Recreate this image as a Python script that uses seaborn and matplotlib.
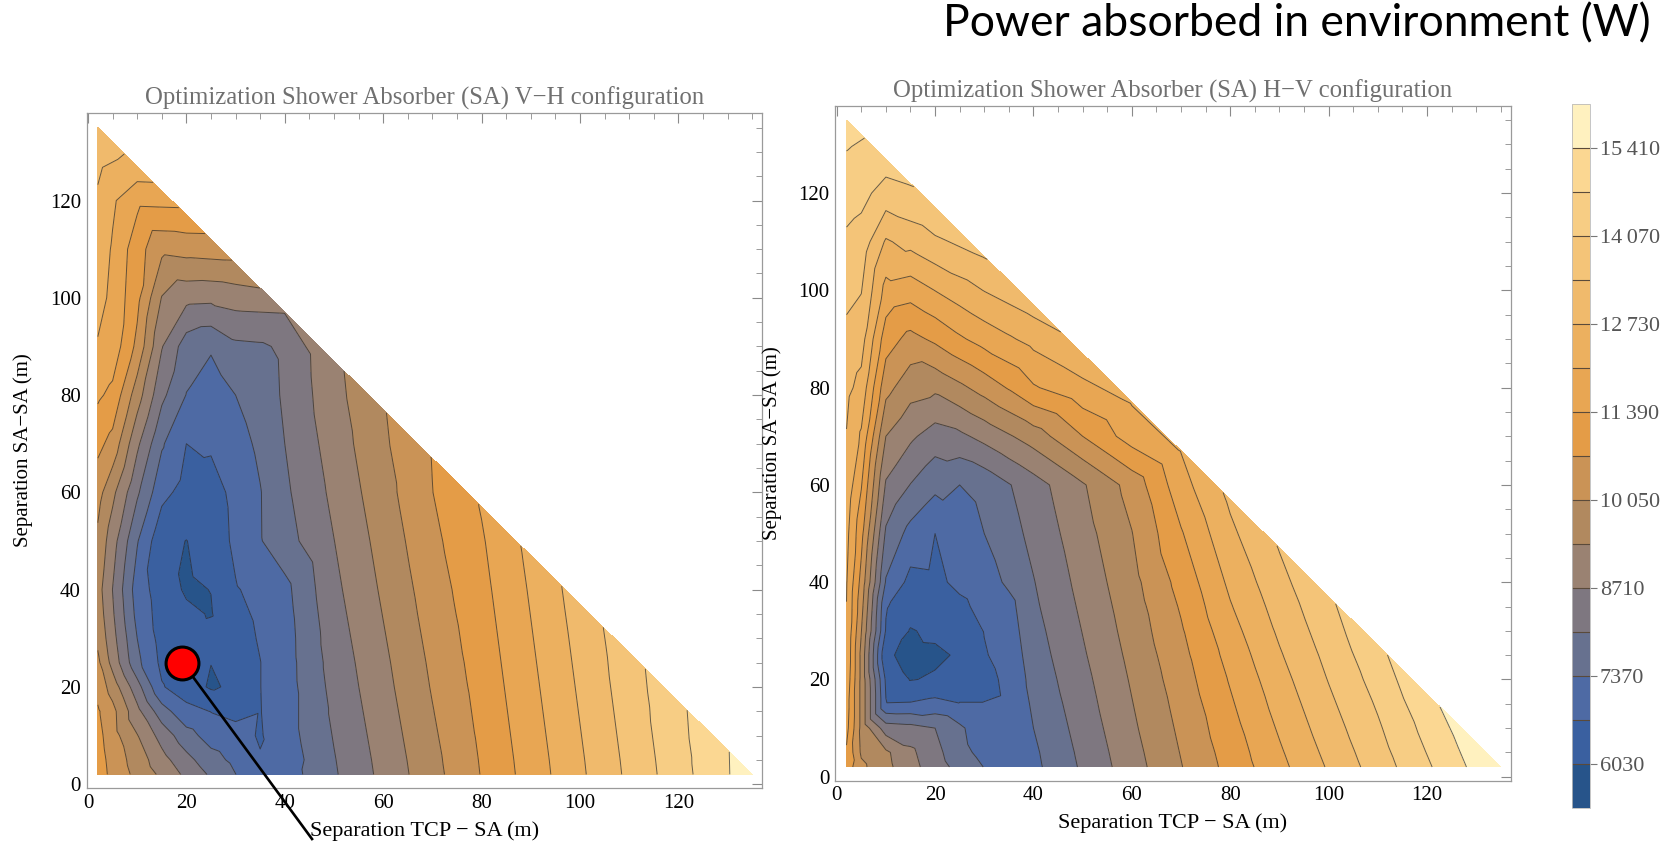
import numpy as np
import matplotlib
matplotlib.use("Agg")
import matplotlib.pyplot as plt
import matplotlib.tri as mtri
from matplotlib.ticker import MultipleLocator, FixedLocator
import seaborn as sns

# ---------------- data ----------------
# sample columns: x positions (m); each column holds values at y_nodes below the
# long edge of the triangle, followed by the value on that edge (x + y = hyp_sum)
x_nodes = [2, 5, 10, 15, 20, 25, 30, 35, 40, 50, 60, 70, 80, 90, 100, 110, 120, 130, 135]
y_nodes = [2, 5, 10, 15, 20, 25, 30, 35, 40, 50, 60, 70, 80, 90, 100, 110, 120, 130]
hyp_sum = 137

# Power absorbed (W), V-H configuration (left panel)
vh_power = [
    [11100, 11050, 10950, 10800, 10500, 10200, 9900, 9750, 9650, 9900, 10300, 10900, 11500, 12000, 12300, 12400, 12600, 13000, 13200],
    [10510, 10450, 10300, 10250, 9750, 9150, 8950, 8800, 8700, 9000, 9550, 10500, 11220, 11800, 11900, 12000, 12150, 12970],
    [9870, 9750, 9410, 8900, 8300, 7530, 7370, 7170, 7050, 7420, 8150, 8850, 9700, 10550, 10900, 11000, 11550, 12470],
    [9240, 8950, 8450, 7650, 6750, 6550, 6450, 6400, 6350, 6200, 6900, 7450, 8200, 8750, 9350, 10200, 11840],
    [8550, 8250, 7620, 6900, 6350, 6250, 6200, 6150, 5950, 6020, 6450, 6700, 7350, 7700, 8900, 10300, 11190],
    [7940, 7620, 7100, 6680, 5950, 6040, 6300, 5990, 6040, 6250, 6400, 6800, 7000, 7450, 8870, 10570],
    [7380, 7200, 6900, 6550, 6150, 6400, 6450, 6550, 6650, 6850, 6900, 7100, 7370, 7900, 9000, 9960],
    [6800, 6740, 6650, 6680, 6690, 6690, 6750, 6800, 6900, 7330, 7340, 7500, 7730, 7950, 9380],
    [7030, 6960, 7060, 7060, 7060, 7070, 7080, 7120, 7180, 7770, 7920, 8040, 8120, 8150, 8730],
    [7960, 8000, 8080, 8160, 8240, 8310, 8390, 8470, 8550, 8700, 8860, 9010, 9160, 9220],
    [8890, 8930, 9010, 9090, 9170, 9240, 9320, 9400, 9480, 9630, 9790, 9940, 10000],
    [9820, 9860, 9940, 10020, 10100, 10170, 10250, 10330, 10400, 10560, 10710, 10740],
    [10750, 10780, 10840, 10900, 10960, 11020, 11080, 11140, 11200, 11320, 11430],
    [11680, 11710, 11770, 11830, 11890, 11950, 12010, 12070, 12130, 12220],
    [12610, 12640, 12700, 12760, 12820, 12880, 12940, 13030],
    [13540, 13570, 13630, 13690, 13750, 13810],
    [14470, 14500, 14560, 14600],
    [15370, 15380],
    [15800],
]

# Power absorbed (W), H-V configuration (right panel)
hv_power = [
    [11100, 11300, 11600, 11700, 11850, 11950, 12000, 12050, 12100, 12250, 12500, 12700, 12900, 13200, 13600, 13950, 14350, 14800, 15000],
    [10200, 9950, 9870, 9870, 9870, 9870, 10075, 10290, 10500, 10930, 11440, 11970, 12520, 13010, 13430, 13810, 14250, 14800],
    [9560, 9500, 8370, 6730, 6600, 6100, 6650, 6750, 7310, 7930, 8630, 9380, 10270, 11030, 11840, 12650, 13820, 14350],
    [8950, 8850, 8270, 6750, 6000, 5900, 5990, 6300, 6500, 7140, 8020, 8830, 9640, 10510, 11690, 12950, 14100],
    [8350, 8250, 8040, 6900, 6100, 5920, 6150, 6300, 6550, 6700, 7540, 8400, 9520, 10850, 12070, 13290, 13880],
    [7820, 7600, 7500, 6720, 6400, 6100, 6350, 6550, 6850, 7000, 7370, 8560, 9900, 11290, 12420, 13650],
    [7350, 7150, 6900, 6720, 6500, 6650, 6720, 6900, 7030, 7370, 7570, 8920, 10320, 11660, 12750, 13430],
    [7000, 6800, 6700, 6800, 6850, 6950, 7050, 7150, 7500, 7790, 8000, 9310, 10780, 11970, 13190],
    [7200, 7250, 7370, 7480, 7600, 7710, 7810, 7920, 8010, 8220, 8420, 9700, 11320, 12280, 12980],
    [8140, 8200, 8310, 8420, 8520, 8630, 8730, 8830, 8930, 9120, 9310, 10720, 11880, 12530],
    [9090, 9150, 9260, 9355, 9450, 9550, 9650, 9740, 9840, 10030, 10300, 11700, 12100],
    [10020, 10080, 10180, 10280, 10400, 10520, 10650, 10790, 10950, 11330, 11790, 12080],
    [10940, 11010, 11150, 11300, 11450, 11620, 11810, 12010, 12200, 12580, 12840],
    [11870, 11970, 12140, 12310, 12480, 12660, 12840, 13010, 13190, 13430],
    [12800, 12910, 13090, 13260, 13430, 13590, 13760, 13980],
    [13720, 13820, 13980, 14150, 14340, 14610],
    [14640, 14760, 14950, 15270],
    [15600, 15800],
    [15900],
]

levels = [5360, 6030, 6700, 7370, 8040, 8710, 9380, 10050, 10720, 11390,
          12060, 12730, 13400, 14070, 14740, 15410, 16080]
band_colors = ["#27548a", "#3a60a0", "#4e6aa4", "#67718f", "#7e7780", "#9a8272",
               "#b1895f", "#ca9356", "#e49c47", "#e8a653", "#ecb05f", "#f0ba6c",
               "#f4c478", "#f7cd84", "#fbd792", "#fff1bf"]
cbar_ticks = [6030, 7370, 8710, 10050, 11390, 12730, 14070, 15410]
cbar_labels = ["6030", "7370", "8710", "10\u2009050", "11\u2009390",
               "12\u2009730", "14\u2009070", "15\u2009410"]
axis_ticks = [0, 20, 40, 60, 80, 100, 120]
optimum_point = (19.2, 25.0)
pointer_end = (45.7, -11.5)

panel_titles = ["Optimization Shower Absorber (SA) V\u2212H configuration",
                "Optimization Shower Absorber (SA) H\u2212V configuration"]
x_label = "Separation TCP \u2212 SA (m)"
y_label = "Separation SA\u2212SA (m)"
main_title = "Power absorbed in environment (W)"

# ---------------- style ----------------
sns.set_theme(style="white")
plt.rcParams["font.family"] = ["Liberation Serif", "DejaVu Serif"]
plt.rcParams["axes.unicode_minus"] = True


def node_table(columns):
    xs, ys, zs = [], [], []
    for x, col in zip(x_nodes, columns):
        yy = [y for y in y_nodes if y < hyp_sum - 2 - x] + [hyp_sum - x]
        if len(yy) != len(col):
            raise ValueError(f"column x={x}: {len(yy)} positions, {len(col)} values")
        xs += [x] * len(col)
        ys += yy
        zs += col
    return np.array(xs, float), np.array(ys, float), np.array(zs, float)


fig = plt.figure(figsize=(16.62, 8.42), dpi=100)
palette = sns.color_palette(band_colors)

axes_rects = [[0.05205, 0.0641, 0.4064, 0.8017],
              [0.50253, 0.0729, 0.4064, 0.8017]]
axes = []
cs = None
for rect, data, title in zip(axes_rects, [vh_power, hv_power], panel_titles):
    ax = fig.add_axes(rect)
    axes.append(ax)
    xs, ys, zs = node_table(data)
    tri = mtri.Triangulation(xs, ys)
    cs = ax.tricontourf(tri, zs, levels=levels, colors=palette)
    ax.tricontour(tri, zs, levels=levels[1:-1], colors="#2a2a2a",
                  linewidths=0.7, alpha=0.7)
    ax.set_xlim(-0.3, 137)
    ax.set_ylim(-0.8, 138)
    ax.set_facecolor("white")
    ax.xaxis.set_major_locator(FixedLocator(axis_ticks))
    ax.yaxis.set_major_locator(FixedLocator(axis_ticks))
    ax.xaxis.set_minor_locator(MultipleLocator(5))
    ax.yaxis.set_minor_locator(MultipleLocator(5))
    ax.tick_params(which="both", direction="in", top=True, right=True,
                   color="#8a8a8a", labelcolor="black", labelsize=15, pad=4)
    ax.tick_params(which="major", length=7, width=0.8)
    ax.tick_params(which="minor", length=4, width=0.6)
    for sp in ax.spines.values():
        sp.set_color("#9a9a9a")
        sp.set_linewidth(0.9)
        sp.set_visible(True)
    ax.set_title(title, fontsize=17.8, color="#707070", pad=6)

# optimum marker on the left panel
ax1 = axes[0]
ax1.plot([optimum_point[0], pointer_end[0]], [optimum_point[1], pointer_end[1]],
         color="black", lw=1.9, clip_on=False, zorder=6, solid_capstyle="butt")
sns.scatterplot(x=[optimum_point[0]], y=[optimum_point[1]], s=560, color="#ff0000",
                edgecolor="black", linewidth=2.2, ax=ax1, zorder=7, legend=False,
                clip_on=False)

for ax in axes:
    ax.set_xlabel(x_label, fontsize=16, labelpad=6, color="black")
    ax.set_ylabel(y_label, fontsize=15, labelpad=12, color="black")

# colour bar
cax = fig.add_axes([0.94585, 0.0404, 0.01083, 0.8361])
cb = fig.colorbar(cs, cax=cax, ticks=cbar_ticks)
cb.ax.set_yticklabels(cbar_labels)
cb.ax.tick_params(direction="out", length=5, width=0.8, color="#777777",
                  labelcolor="#555555", labelsize=16, pad=2)
cb.outline.set_edgecolor("#bbbbbb")
cb.outline.set_linewidth(0.6)
for lv in levels[1:-1]:
    cax.axhline(lv, color="#5a4a3a", lw=0.8)

fig.text(0.993, 0.972, main_title, ha="right", va="center", fontsize=32,
         family=["Lato", "DejaVu Sans"], color="black")

fig.savefig("out.png", dpi=100)
